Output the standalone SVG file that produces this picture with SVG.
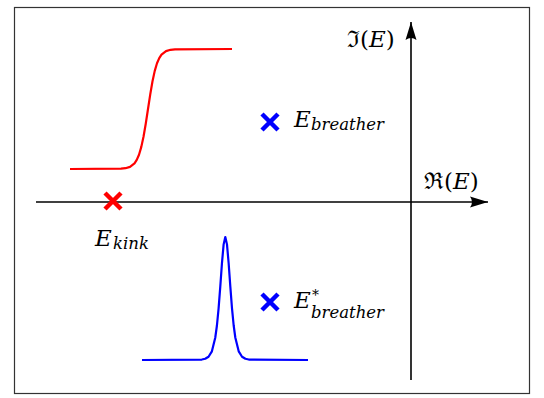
<svg xmlns="http://www.w3.org/2000/svg" width="544" height="398" viewBox="0 0 544 398">
<style>
.t{font-family:"DejaVu Serif","Liberation Serif",serif;font-size:22px;fill:#000}
.i{font-style:italic}
.s{font-family:"DejaVu Serif","Liberation Serif",serif;font-size:16.5px;font-style:italic;fill:#000}
.ax{stroke:#000;stroke-width:1.6;fill:none}
.cr{stroke-width:4.5;fill:none}
</style>
<defs>
<marker id="ah" markerWidth="20" markerHeight="14" viewBox="0 0 20 14" refX="18" refY="7" orient="auto" markerUnits="userSpaceOnUse">
<path d="M0,1.5 Q4,7 0,12.5 L18,7 Z" fill="#000"/>
</marker>
</defs>
<rect x="14.5" y="7.5" width="515" height="386" fill="#fff" stroke="#333" stroke-width="1.2"/>
<g id="connectors">
<line class="ax" x1="36" y1="202" x2="488" y2="202" marker-end="url(#ah)"/>
<line class="ax" x1="411" y1="380" x2="411" y2="22" marker-end="url(#ah)"/>
</g>
<g id="kink-curve">
<polyline fill="none" stroke="#f00" stroke-width="2.2" stroke-linejoin="round" points="70,169 121,168.7 125.5,168.2 130,166.84 134.5,163.31 136.75,159.9 139,154.7 141.25,147.11 143.5,136.73 145.75,123.7 148,109 150.25,94.3 152.5,81.27 154.75,70.89 157,63.3 159.25,58.1 161.5,54.69 166,51.16 170.5,49.8 175,49.3 232,49"/>
</g>
<g id="breather-curve">
<polyline fill="none" stroke="#00f" stroke-width="2.2" stroke-linejoin="round" points="142,360 201.85,359.55 205.2,358.79 208.55,356.73 211.9,351.31 215.25,337.77 216.93,325.51 218.6,308.34 220.28,286.62 221.95,263.27 223.63,244.38 225.3,237 226.98,244.38 228.65,263.27 230.33,286.62 232,308.34 233.68,325.51 235.35,337.77 238.7,351.31 242.05,356.73 245.4,358.79 248.75,359.55 308,360"/>
</g>
<g id="kink">
<path class="cr" stroke="#f00" d="M105,193 L121,209 M121,193 L105,209"/>
<text class="t i" x="95" y="246" style="font-size:23px">E</text>
<text class="s" x="113" y="249">kink</text>
</g>
<g id="breather">
<path class="cr" stroke="#00f" d="M262,114 L278,130 M278,114 L262,130"/>
<text class="t i" x="294" y="127" style="font-size:23px">E</text>
<text class="s" x="311" y="130">breather</text>
</g>
<g id="breather-conj">
<path class="cr" stroke="#00f" d="M262,294 L278,310 M278,294 L262,310"/>
<text class="t i" x="294" y="308" style="font-size:23px">E</text>
<text class="s" x="312" y="300" style="font-style:normal;font-size:14px">*</text>
<text class="s" x="311" y="318">breather</text>
</g>
<g id="im-label">
<text class="t" x="347" y="47" style="font-size:23px">ℑ(<tspan class="i">E</tspan>)</text>
</g>
<g id="re-label">
<text class="t" x="424" y="189" style="font-size:23px">ℜ(<tspan class="i">E</tspan>)</text>
</g>
</svg>
